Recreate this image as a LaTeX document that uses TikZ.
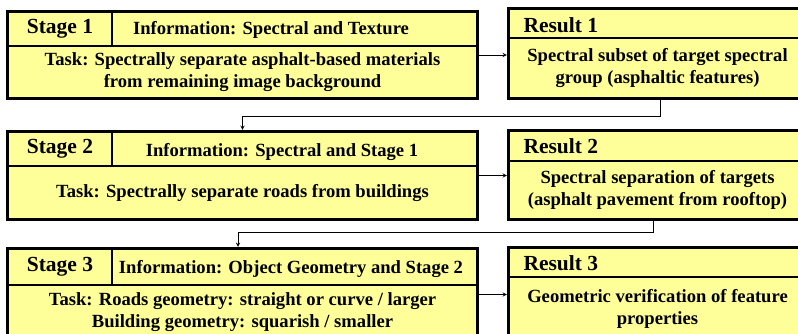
\documentclass[tikz,border=0pt]{standalone}
\usepackage{fontspec}
\setmainfont{Liberation Serif}
\usetikzlibrary{fit}
\definecolor{amarillo}{RGB}{255,255,153}
\newcommand{\etapa}{\fontsize{21.5}{24}\selectfont\bfseries}
\newcommand{\tarea}{\fontsize{18.6}{22}\selectfont\bfseries}
\newcommand{\infot}{\fontsize{18.6}{22}\selectfont\bfseries}

\begin{document}
\begin{tikzpicture}[x=1pt,y=-1pt,
  celda/.style={draw, line width=1.5pt, fill=amarillo, inner sep=0pt, align=center, font=\tarea},
  marco/.style={draw, line width=2.8pt, inner sep=0pt},
  flecha/.style={-stealth, line width=0.9pt}]
\clip (0,0) rectangle (798,333);
\useasboundingbox (0,0) rectangle (798,333);

%Etapa 1
\node[celda, minimum width=104pt, minimum height=34pt, font=\etapa] (s1a) at (60,29) {Stage 1};
\node[celda, minimum width=365pt, minimum height=34pt] (s1b) at (294.5,29) {};
\node[anchor=base, font=\infot] (s1i) at (271,34) {Information: Spectral and Texture};
\node[celda, minimum width=469pt, minimum height=52pt] (s1c) at (242.5,72)
  {Task: Spectrally separate asphalt-based materials\\ from remaining image background};
\node[marco, fit=(s1a)(s1b)(s1c)] (s1) {};

%Resultado 1
\node[celda, minimum width=297pt, minimum height=29pt] (r1a) at (657.5,23.5) {};
\node[anchor=base west, font=\etapa] (r1l) at (520,32) {Result 1};
\node[celda, minimum width=297pt, minimum height=60pt] (r1b) at (657.5,68)
  {Spectral subset of target spectral\\ group (asphaltic features)};
\node[marco, fit=(r1a)(r1b)] (r1) {};

%Etapa 2
\node[celda, minimum width=104pt, minimum height=34pt, font=\etapa] (s2a) at (60,149) {Stage 2};
\node[celda, minimum width=365pt, minimum height=34pt] (s2b) at (294.5,149) {};
\node[anchor=base, font=\infot] (s2i) at (282,156) {Information: Spectral and Stage 1};
\node[celda, minimum width=469pt, minimum height=53pt] (s2c) at (242.5,192.5)
  {Task: Spectrally separate roads from buildings};
\node[marco, fit=(s2a)(s2b)(s2c)] (s2) {};

%Resultado 2
\node[celda, minimum width=297pt, minimum height=30pt] (r2a) at (657.5,146) {};
\node[anchor=base west, font=\etapa] (r2l) at (520,153) {Result 2};
\node[celda, minimum width=297pt, minimum height=58pt] (r2b) at (657.5,190)
  {Spectral separation of targets\\ (asphalt pavement from rooftop)};
\node[marco, fit=(r2a)(r2b)] (r2) {};

%Etapa 3
\node[celda, minimum width=104pt, minimum height=36pt, font=\etapa] (s3a) at (60,267) {Stage 3};
\node[celda, minimum width=365pt, minimum height=36pt] (s3b) at (294.5,267) {};
\node[anchor=base, font=\infot] (s3i) at (291,273) {Information: Object Geometry and Stage 2};
\node[celda, minimum width=469pt, minimum height=55pt] (s3c) at (242.5,312.5)
  {Task: Roads geometry: straight or curve / larger\\ Building geometry: squarish / smaller};
\node[marco, fit=(s3a)(s3b)(s3c)] (s3) {};

%Resultado 3
\node[celda, minimum width=297pt, minimum height=29pt] (r3a) at (657.5,262.5) {};
\node[anchor=base west, font=\etapa] (r3l) at (520,270) {Result 3};
\node[celda, minimum width=297pt, minimum height=63pt] (r3b) at (657.5,308.5)
  {Geometric verification of feature\\ properties};
\node[marco, fit=(r3a)(r3b)] (r3) {};

%Flechas
\coordinate (q1) at (0,116);
\coordinate (q2) at (0,232);
\draw[flecha] (s1.east) -- (s1.east -| r1.west);
\draw[flecha] (s2.east) -- (s2.east -| r2.west);
\draw[flecha] (s3.east) -- (s3.east -| r3.west);
\draw[flecha] ([xshift=2.5pt]r1.south) |- (q1 -| s2.north) -- (s2.north);
\draw[flecha] ([xshift=-4.5pt]r2.south) |- ([xshift=-4.5pt]q2 -| s3.north) -- ([xshift=-4.5pt]s3.north);
\end{tikzpicture}
\end{document}
